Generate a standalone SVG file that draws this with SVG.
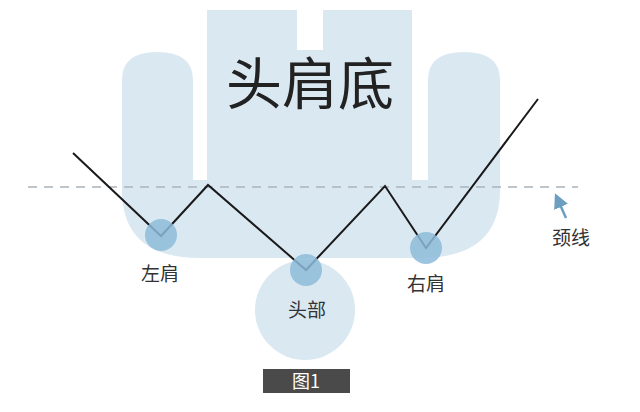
<svg xmlns="http://www.w3.org/2000/svg" width="640" height="412" viewBox="0 0 640 412">
<defs><style>
.bg{fill:#dae8f2}
.dot{fill:#8dbbd9;opacity:0.85}
.lbl{font-family:"Noto Sans CJK SC",sans-serif;font-size:19px;fill:#333;text-anchor:middle}
</style>
<marker id="ah" viewBox="0 0 10 10" refX="5" refY="5" markerWidth="6" markerHeight="6" orient="auto"><path d="M0,0L10,5L0,10z" fill="#6a9fc0"/></marker></defs>
<rect width="640" height="412" fill="#fff"/>
<g id="background">
<path class="bg" d="M122,180H500V190Q500,258 420,258H200Q122,258 122,190Z"/>
<path class="bg" d="M122,185V80Q122,52 157,52Q193,52 193,80V185Z"/>
<path class="bg" d="M428,185V80Q428,52 464,52Q500,52 500,80V185Z"/>
<path class="bg" d="M207,10H297V50H323V10H412V190H207Z"/>
<circle class="bg" cx="305" cy="310" r="50"/>
</g>
<g id="title"><text x="310" y="104" font-family="Noto Sans CJK SC,sans-serif" font-size="56" fill="#222" text-anchor="middle">头肩底</text></g>
<g id="connectors">
<line x1="28" y1="187" x2="578" y2="187" stroke="#a9b3bb" stroke-width="1.3" stroke-dasharray="9,7"/>
<polyline points="73,153 161,236 208,185 306,270 385,186 426,248 538,99" fill="none" stroke="#1a1a1a" stroke-width="2"/>
<line x1="566" y1="218" x2="558" y2="200" stroke="#6a9fc0" stroke-width="2.5" marker-end="url(#ah)"/>
</g>
<g id="left-shoulder"><circle class="dot" cx="161" cy="235" r="16"/><text class="lbl" x="160" y="281">左肩</text></g>
<g id="head"><circle class="dot" cx="306" cy="270" r="16"/><text class="lbl" x="307" y="317">头部</text></g>
<g id="right-shoulder"><circle class="dot" cx="426" cy="248" r="16"/><text class="lbl" x="426" y="291">右肩</text></g>
<g id="neckline"><text class="lbl" x="571" y="245">颈线</text></g>
<g id="caption"><rect x="263" y="369" width="87" height="24" fill="#4a4a4a"/><text x="306" y="388" font-family="Noto Sans CJK SC,sans-serif" font-size="18" fill="#fff" text-anchor="middle">图1</text></g>
</svg>
